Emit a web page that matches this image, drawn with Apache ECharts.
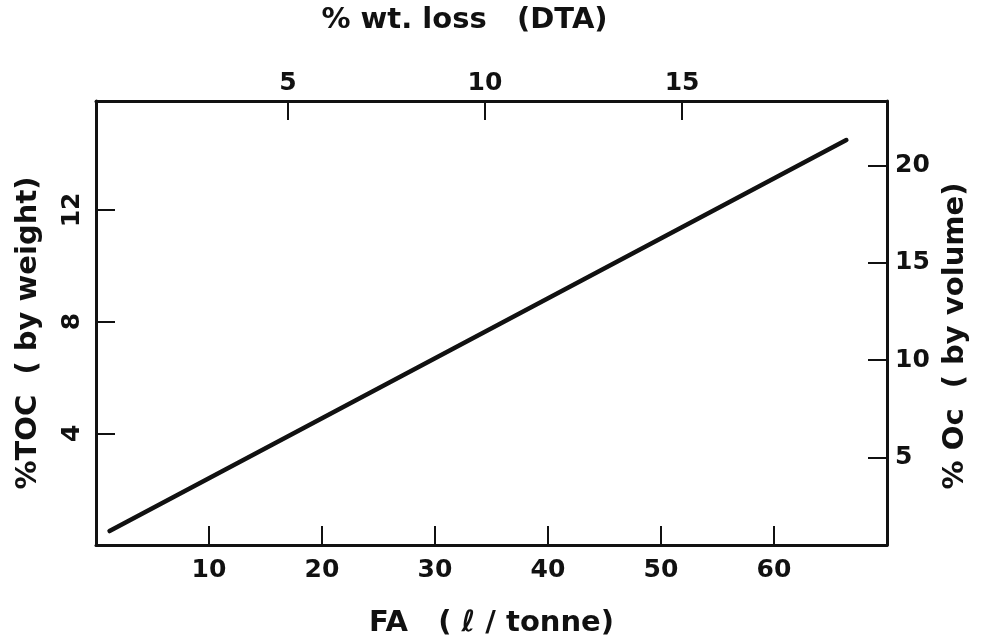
<!DOCTYPE html>
<html>
<head>
<meta charset="utf-8">
<script src="https://cdn.jsdelivr.net/npm/echarts@6/dist/echarts.min.js"></script>
<style>
  html, body { margin: 0; padding: 0; background: #fff; }
  #chart { width: 982px; height: 643px; }
</style>
</head>
<body>
<div id="chart"></div>
<script>
// FA yield (litres per tonne) against total organic carbon (% by weight)
const faValues = [1.2, 66.4];
const tocValues = [0.5, 14.5];

// Tick labels on each of the four frame sides
const faTicks = [10, 20, 30, 40, 50, 60];
const tocTicks = [4, 8, 12];
const ocTicks = [5, 10, 15, 20];
const wtLossTicks = [5, 10, 15];

// Scale ranges of the frame sides
const faRange = [0, 70];
const tocRange = [0, 15.9];
const ocRange = [0.5, 23.3];
const wtLossRange = [0.13, 20.2];

const FONT = '"DejaVu Sans", sans-serif';
const INK = '#111';
const TITLE = { color: INK, fontFamily: FONT, fontWeight: 'bold', fontSize: 29 };

function frameAxis(range, ticks, position, extra) {
  return Object.assign({
    type: 'value',
    position: position,
    min: range[0],
    max: range[1],
    splitLine: { show: false },
    axisLine: { show: true, onZero: false, lineStyle: { color: INK, width: 3 } },
    axisTick: { show: true, inside: true, length: 19, customValues: ticks,
                lineStyle: { color: INK, width: 2 } },
    axisLabel: { show: true, customValues: ticks, color: INK, fontFamily: FONT,
                 fontWeight: 'bold', fontSize: 25 }
  }, extra || {});
}

const chart = echarts.init(document.getElementById('chart'), null, { renderer: 'canvas' });

chart.setOption({
  animation: false,
  backgroundColor: '#fff',
  grid: { left: 96, right: 95, top: 101, bottom: 90, containLabel: false },
  xAxis: [
    frameAxis(faRange, faTicks, 'bottom', {
      name: 'FA   ( ℓ / tonne)',
      nameLocation: 'middle',
      nameGap: 64,
      nameTextStyle: TITLE,
      axisLabel: { show: true, customValues: faTicks, color: INK, fontFamily: FONT,
                   fontWeight: 'bold', fontSize: 25, margin: 13 }
    }),
    frameAxis(wtLossRange, wtLossTicks, 'top', {
      name: '% wt. loss   (DTA)',
      nameLocation: 'middle',
      nameGap: 66,
      nameTextStyle: Object.assign({ padding: [0, 54, 0, 0] }, TITLE),
      axisLabel: { show: true, customValues: wtLossTicks, color: INK, fontFamily: FONT,
                   fontWeight: 'bold', fontSize: 25, margin: 5 }
    })
  ],
  yAxis: [
    frameAxis(tocRange, tocTicks, 'left', {
      name: '%TOC  ( by weight)',
      nameLocation: 'middle',
      nameGap: 53,
      nameTextStyle: Object.assign({ padding: [0, 20, 0, 0] }, TITLE),
      axisLabel: { show: true, customValues: tocTicks, color: INK, fontFamily: FONT,
                   fontWeight: 'bold', fontSize: 25, rotate: 90, margin: 11 }
    }),
    frameAxis(ocRange, ocTicks, 'right', {
      name: '% Oc  ( by volume)',
      nameLocation: 'middle',
      nameGap: 49,
      nameRotate: 90,
      nameTextStyle: Object.assign({ padding: [0, 26, 0, 0] }, TITLE),
      axisLabel: { show: true, customValues: ocTicks, color: INK, fontFamily: FONT,
                   fontWeight: 'bold', fontSize: 25, margin: 8 }
    })
  ],
  series: [{
    type: 'line',
    xAxisIndex: 0,
    yAxisIndex: 0,
    data: faValues.map((fa, i) => [fa, tocValues[i]]),
    showSymbol: false,
    symbol: 'none',
    lineStyle: { color: INK, width: 4.5, cap: 'round' }
  }]
});
</script>
</body>
</html>
